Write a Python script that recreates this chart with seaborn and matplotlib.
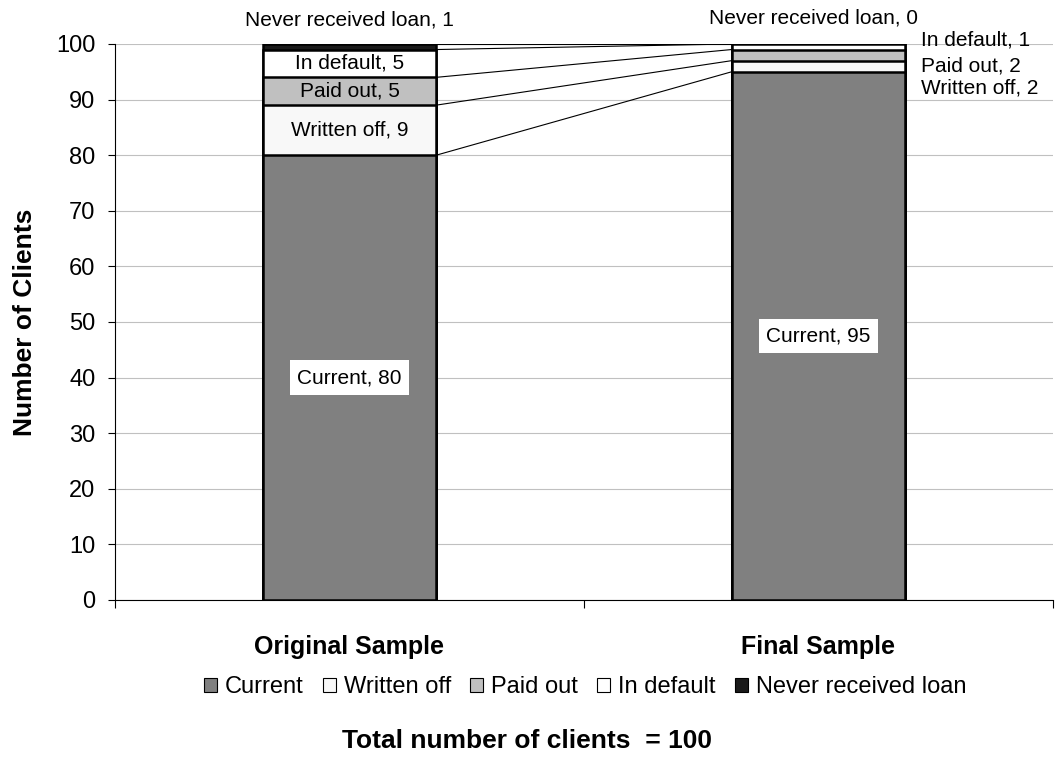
import numpy as np
import pandas as pd
import matplotlib
matplotlib.use("Agg")
import matplotlib.pyplot as plt
import seaborn as sns
from matplotlib.patches import Patch

samples = ["Original Sample", "Final Sample"]
categories = ["Current", "Written off", "Paid out", "In default", "Never received loan"]
original_values = [80, 9, 5, 5, 1]
final_values = [95, 2, 2, 1, 0]
colors = ["#808080", "#f8f8f8", "#c0c0c0", "#ffffff", "#1a1a1a"]

sns.set_theme(style="white")
plt.rcParams["font.family"] = ["Liberation Sans", "DejaVu Sans"]
plt.rcParams.update({"text.color": "black", "axes.labelcolor": "black",
                     "xtick.color": "black", "ytick.color": "black"})

fig = plt.figure(figsize=(10.55, 7.57), dpi=100)
ax = fig.add_axes([0.109, 0.2074, 0.889, 0.7345])

vals = np.array([original_values, final_values])  # shape (2, 5)
cum = vals.cumsum(axis=1)
bar_w = 0.37
LBL = 15

# draw cumulative bars from top layer to bottom layer
for i in range(len(categories) - 1, -1, -1):
    df = pd.DataFrame({"sample": samples, "value": cum[:, i]})
    sns.barplot(data=df, x="sample", y="value", ax=ax, color=colors[i],
                width=bar_w, edgecolor="black", linewidth=1.8, saturation=1,
                zorder=3, errorbar=None)

# connecting lines between cumulative tops
for i in range(len(categories)):
    ax.plot([bar_w / 2, 1 - bar_w / 2], [cum[0, i], cum[1, i]],
            color="black", lw=0.8, zorder=4)

# labels for original sample (inside bar)
ax.text(0, original_values[0] / 2, f"{categories[0]}, {original_values[0]}",
        ha="center", va="center", fontsize=LBL, zorder=6,
        bbox=dict(facecolor="white", edgecolor="none", pad=5.5))
for i in range(1, 4):
    mid = cum[0, i] - original_values[i] / 2
    ax.text(0, mid, f"{categories[i]}, {original_values[i]}",
            ha="center", va="center", fontsize=LBL, zorder=6)
ax.text(0, 104.4, f"{categories[4]}, {original_values[4]}",
        ha="center", va="center", fontsize=LBL, clip_on=False)

# labels for final sample
ax.text(1, final_values[0] / 2, f"{categories[0]}, {final_values[0]}",
        ha="center", va="center", fontsize=LBL, zorder=6,
        bbox=dict(facecolor="white", edgecolor="none", pad=5.5))
right_y = {1: 92.1, 2: 96.1, 3: 100.7}
for i in (1, 2, 3):
    ax.text(1.219, right_y[i], f"{categories[i]}, {final_values[i]}",
            ha="left", va="center", fontsize=LBL, clip_on=False, zorder=6)
ax.text(0.99, 104.7, f"{categories[4]}, {final_values[4]}",
        ha="center", va="center", fontsize=LBL, clip_on=False)

ax.set_xlim(-0.5, 1.5)
ax.set_ylim(0, 100)
ax.set_yticks(range(0, 101, 10))
ax.tick_params(axis="y", labelsize=17, length=5, width=0.8, color="black",
               left=True, direction="out", pad=9)
ax.set_xticks([0, 1])
ax.set_xticklabels(samples, fontsize=18, fontweight="bold")
ax.set_xticks([-0.5, 0.5, 1.5], minor=True)
ax.tick_params(axis="x", which="minor", length=6, width=0.8, color="black",
               bottom=True, direction="out")
ax.tick_params(axis="x", which="major", length=0, pad=25)
ax.grid(axis="y", color="#c0c0c0", lw=0.8, zorder=0)
ax.set_axisbelow(True)
for s in ["top", "right"]:
    ax.spines[s].set_visible(False)
for s in ["left", "bottom"]:
    ax.spines[s].set_color("black")
    ax.spines[s].set_linewidth(0.8)
ax.set_xlabel("")
ax.set_ylabel("Number of Clients", fontsize=19, fontweight="bold", labelpad=14)

handles = [Patch(facecolor=c, edgecolor="black", lw=0.8) for c in colors]
fig.legend(handles, categories, loc="center", bbox_to_anchor=(0.5545, 0.0925),
           ncol=5, frameon=False, fontsize=17, handlelength=0.55,
           handleheight=0.55, handletextpad=0.35, columnspacing=0.8)

fig.text(0.5, 0.021, "Total number of clients  = 100", ha="center",
         va="center", fontsize=19, fontweight="bold")

fig.savefig("out.png", dpi=100)
